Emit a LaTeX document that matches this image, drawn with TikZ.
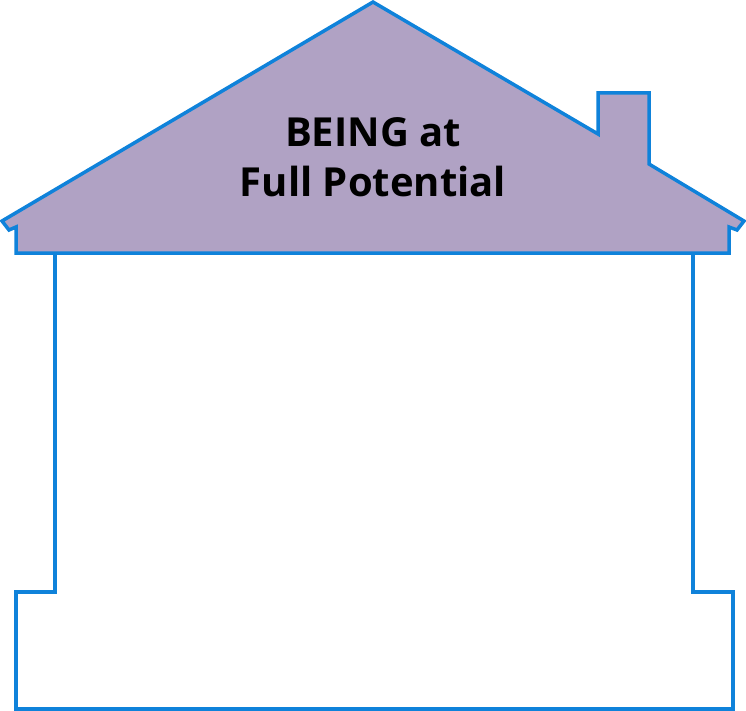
\documentclass[tikz,border=0pt]{standalone}
\usepackage{fontspec}
\setmainfont{Open Sans}
\usepackage{xcolor}
\usepackage{tikz}
\definecolor{roofpurple}{HTML}{B0A2C4}
\definecolor{lineblue}{HTML}{0F82DA}

\begin{document}
\begin{tikzpicture}[
    x=1pt, y=-1pt,
    outline/.style={draw=lineblue, line width=3.5pt, line join=miter},
    roof/.style={outline, fill=roofpurple},
    title/.style={font=\fontsize{40}{50}\selectfont\bfseries, align=center, text=black},
  ]
    \useasboundingbox (0,0) rectangle (746,711);
    % ── Roof with chimney ──
    \draw[roof] (16,253) -- (16,227) -- (9,230) -- (2,221) -- (373,2)
      -- (598,134) -- (598,93) -- (649,93) -- (649,164)
      -- (744,221) -- (737,230) -- (729,227) -- (729,253) -- cycle;
    % ── Walls and base ──
    \draw[outline] (55,253) -- (55,592) -- (16,592) -- (16,709)
      -- (733,709) -- (733,592) -- (693,592) -- (693,253);
    % Title
    \node[title] (being) at (373,157) {BEING at\\Full Potential};
  \end{tikzpicture}
\end{document}
